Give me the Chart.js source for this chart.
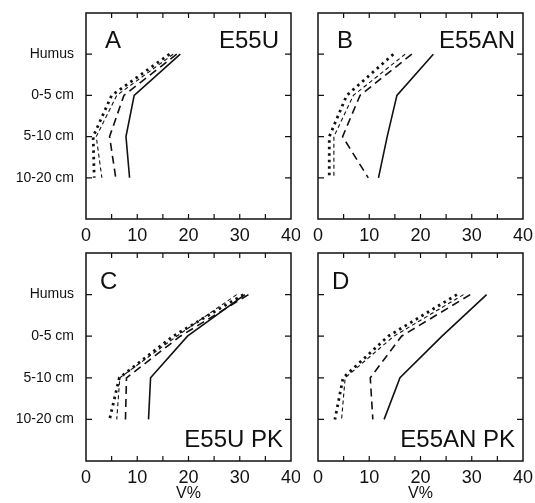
<!DOCTYPE html>
<html>
<head>
<meta charset="utf-8">
<script src="https://cdn.jsdelivr.net/npm/chart.js@4/dist/chart.umd.min.js"></script>
<style>
  html, body { margin: 0; padding: 0; background: #fff; }
  #wrap { position: relative; width: 535px; height: 503px; }
  .panel { position: absolute; }
</style>
</head>
<body>
<div id="wrap">
  <div class="panel" style="left:0;top:0;width:300px;height:250px"><canvas id="cA"></canvas></div>
  <div class="panel" style="left:300px;top:0;width:235px;height:250px"><canvas id="cB"></canvas></div>
  <div class="panel" style="left:0;top:250px;width:300px;height:253px"><canvas id="cC"></canvas></div>
  <div class="panel" style="left:300px;top:250px;width:235px;height:253px"><canvas id="cD"></canvas></div>
</div>
<script>
// depth layers (y axis), top to bottom
const depthLabels = ['Humus', '0-5 cm', '5-10 cm', '10-20 cm'];
const xTickLabels = [0, 10, 20, 30, 40];

// V% values per depth
const aSolid = [18.4, 9.4, 7.8, 8.5];
const aLong  = [17.7, 7.4, 4.6, 5.8];
const aShort = [17.0, 6.0, 2.0, 3.1];
const aDot   = [16.3, 5.0, 1.4, 1.6];

const bSolid = [22.5, 15.4, 13.5, 11.8];
const bLong  = [18.3, 8.2, 4.8, 9.8];
const bShort = [17.0, 6.9, 3.1, 3.1];
const bDot   = [14.7, 5.6, 2.2, 2.2];

const cSolid = [31.0, 19.8, 12.6, 12.2];
const cLong  = [31.7, 18.4, 7.9, 7.7];
const cShort = [29.4, 17.7, 6.6, 6.0];
const cDot   = [30.7, 17.0, 6.5, 4.6];

const dSolid = [32.9, 24.2, 16.0, 12.9];
const dLong  = [29.7, 16.3, 10.2, 10.7];
const dShort = [28.4, 14.8, 5.3, 4.6];
const dDot   = [27.1, 13.7, 4.9, 3.3];

const FONT = '"Liberation Sans", Arial, sans-serif';
const INK = '#111';

// line styles: solid, long dash, short dash, dotted
const styles = [
  { borderDash: [], borderWidth: 1.6 },
  { borderDash: [8, 5], borderWidth: 1.6 },
  { borderDash: [4, 3], borderWidth: 1.1 },
  { borderDash: [2.5, 4], borderWidth: 2.8 },
];

function toPoints(vals) {
  return vals.map((v, i) => ({ x: v, y: i }));
}

// frame, inward ticks and panel labels
const framePlugin = {
  id: 'frame',
  afterDraw(chart, args, opts) {
    const { ctx, chartArea: a, scales: { x, y } } = chart;
    ctx.save();
    ctx.strokeStyle = INK;
    ctx.lineWidth = 1.5;
    ctx.setLineDash([]);
    ctx.strokeRect(a.left, a.top, a.right - a.left, a.bottom - a.top);
    ctx.lineWidth = 1.2;
    ctx.beginPath();
    x.ticks.forEach(t => {
      if (t.value <= x.min || t.value >= x.max) return;
      const px = x.getPixelForValue(t.value);
      ctx.moveTo(px, a.bottom); ctx.lineTo(px, a.bottom - 5);
      ctx.moveTo(px, a.top); ctx.lineTo(px, a.top + 5);
    });
    depthLabels.forEach((d, i) => {
      const py = y.getPixelForValue(i);
      ctx.moveTo(a.left, py); ctx.lineTo(a.left + 6, py);
      ctx.moveTo(a.right, py); ctx.lineTo(a.right - 6, py);
    });
    ctx.stroke();

    ctx.fillStyle = INK;
    ctx.font = '24px ' + FONT;
    const base = y.getPixelForValue(0) - 6;
    ctx.textAlign = 'left';
    ctx.textBaseline = 'alphabetic';
    ctx.fillText(opts.letter, a.left + opts.letterDx, base);
    ctx.textAlign = 'right';
    if (opts.nameAtBottom) {
      ctx.fillText(opts.name, a.right - opts.nameDx, a.bottom - 14);
    } else {
      ctx.fillText(opts.name, a.right - opts.nameDx, base);
    }
    ctx.restore();
  }
};

function makePanel(id, letter, name, series, opt) {
  const ctx = document.getElementById(id).getContext('2d');
  return new Chart(ctx, {
    type: 'scatter',
    data: {
      datasets: series.map((vals, k) => ({
        data: toPoints(vals),
        showLine: true,
        fill: false,
        borderColor: INK,
        backgroundColor: INK,
        pointRadius: 0,
        borderCapStyle: 'butt',
        tension: 0,
        ...styles[k],
      })),
    },
    options: {
      responsive: true,
      maintainAspectRatio: false,
      animation: false,
      layout: { padding: { top: opt.padTop, right: opt.padRight, left: 0, bottom: 0 } },
      plugins: {
        legend: { display: false },
        tooltip: { enabled: false },
        frame: { letter: letter, name: name, nameAtBottom: opt.nameAtBottom,
                 letterDx: opt.letterDx, nameDx: opt.nameDx },
      },
      scales: {
        x: {
          type: 'linear',
          min: 0, max: 40,
          grid: { display: false, drawTicks: false },
          border: { display: false },
          ticks: {
            stepSize: 5,
            autoSkip: false,
            maxRotation: 0,
            padding: 6,
            color: INK,
            font: { size: 18, family: FONT },
            callback: v => xTickLabels.includes(v) ? String(v) : '',
          },
          title: {
            display: opt.xTitle,
            text: 'V%',
            color: INK,
            font: { size: 16, family: FONT },
            padding: { top: 0, bottom: 0 },
          },
          afterFit: s => {
            s.height = opt.xHeight;
            s.paddingLeft = 0; s.paddingRight = 0;
          },
        },
        y: {
          type: 'linear',
          min: -1, max: 4,
          reverse: true,
          grid: { display: false, drawTicks: false },
          border: { display: false },
          ticks: {
            display: opt.yLabels,
            stepSize: 1,
            autoSkip: false,
            padding: 12,
            color: INK,
            font: { size: 14, family: FONT },
            callback: v => (v >= 0 && v < depthLabels.length) ? depthLabels[v] : '',
          },
          afterFit: s => {
            s.width = opt.yWidth;
            s.paddingTop = 0; s.paddingBottom = 0;
          },
        },
      },
    },
    plugins: [framePlugin],
  });
}

makePanel('cA', 'A', 'E55U', [aSolid, aLong, aShort, aDot],
  { padTop: 13, padRight: 9, xHeight: 31, yWidth: 86, yLabels: true, xTitle: false,
    nameAtBottom: false, letterDx: 19, nameDx: 12 });
makePanel('cB', 'B', 'E55AN', [bSolid, bLong, bShort, bDot],
  { padTop: 13, padRight: 12, xHeight: 31, yWidth: 18, yLabels: false, xTitle: false,
    nameAtBottom: false, letterDx: 19, nameDx: 8 });
makePanel('cC', 'C', 'E55U PK', [cSolid, cLong, cShort, cDot],
  { padTop: 3, padRight: 9, xHeight: 42, yWidth: 86, yLabels: true, xTitle: true,
    nameAtBottom: true, letterDx: 14, nameDx: 8 });
makePanel('cD', 'D', 'E55AN PK', [dSolid, dLong, dShort, dDot],
  { padTop: 3, padRight: 12, xHeight: 42, yWidth: 18, yLabels: false, xTitle: true,
    nameAtBottom: true, letterDx: 14, nameDx: 8 });
</script>
</body>
</html>
